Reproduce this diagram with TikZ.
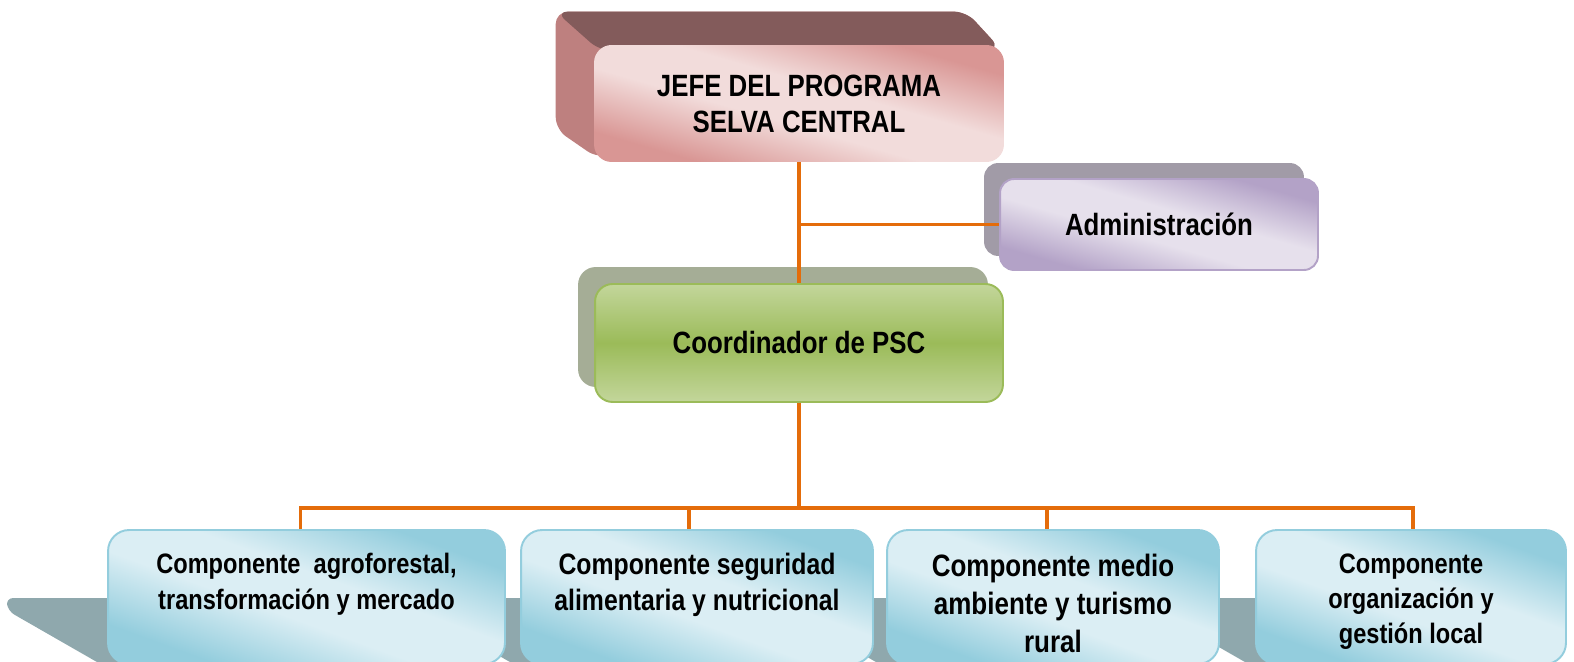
\documentclass[tikz,border=0pt]{standalone}
\usepackage{fontspec}
\setmainfont{Liberation Sans}[FakeStretch=0.84]
\usetikzlibrary{positioning,calc,backgrounds}
\definecolor{linkorange}{HTML}{E46C0A}
\definecolor{pinklight}{HTML}{F2DCDB}
\definecolor{pinkdark}{HTML}{D99694}
\definecolor{slabtop}{HTML}{835B5B}
\definecolor{slabside}{HTML}{BE807F}
\definecolor{lilaclight}{HTML}{E6E0EC}
\definecolor{lilacdark}{HTML}{B3A2C7}
\definecolor{lilacshadow}{HTML}{A19BA7}
\definecolor{greenlight}{HTML}{C3D69B}
\definecolor{greendark}{HTML}{9BBB59}
\definecolor{greenshadow}{HTML}{A5AD96}
\definecolor{bluelight}{HTML}{DBEEF4}
\definecolor{bluedark}{HTML}{93CDDD}
\definecolor{bandshadow}{HTML}{8FA8AD}
\pgfdeclareverticalshading{pinkshade}{100bp}{color(0bp)=(pinkdark); color(27bp)=(pinkdark); color(44bp)=(pinklight); color(56bp)=(pinklight); color(73bp)=(pinkdark); color(100bp)=(pinkdark)}
\pgfdeclareverticalshading{lilacshade}{100bp}{color(0bp)=(lilacdark); color(27bp)=(lilacdark); color(44bp)=(lilaclight); color(56bp)=(lilaclight); color(73bp)=(lilacdark); color(100bp)=(lilacdark)}
\pgfdeclareverticalshading{blueshade}{100bp}{color(0bp)=(bluedark); color(27bp)=(bluedark); color(44bp)=(bluelight); color(56bp)=(bluelight); color(73bp)=(bluedark); color(100bp)=(bluedark)}
\tikzset{headbox/.style = {rounded corners=10pt, minimum width=8.2cm, minimum height=2.34cm, align=center, shading=pinkshade, shading angle=-16}}
\tikzset{adminbox/.style = {draw=lilacdark, line width=1.1pt, rounded corners=8pt, minimum width=6.36cm, minimum height=1.82cm, shading=lilacshade, shading angle=-16}}
\tikzset{coordbox/.style = {draw=greendark, line width=1.1pt, rounded corners=10pt, minimum width=8.16cm, minimum height=2.36cm, top color=greenlight, bottom color=greenlight, middle color=greendark}}
\tikzset{compbox/.style = {draw=bluedark, line width=1.1pt, rounded corners=12pt, minimum height=2.68cm, shading=blueshade, shading angle=-20}}
\tikzset{comptext/.style = {anchor=north, align=center, inner sep=0pt, font=\bfseries\fontsize{16.8}{20.5}\selectfont}}
\tikzset{link/.style = {draw=linkorange, line width=2pt}}

\begin{document}
\begin{tikzpicture}[x=0.02cm, y=-0.02cm, font=\bfseries\fontsize{17.5}{20.5}\selectfont]
  \useasboundingbox (0,0) rectangle (1574,662);
  % upper levels
  \node [headbox] (jefe) at (799,103.5) {JEFE DEL PROGRAMA\\SELVA CENTRAL};
  \node [adminbox] (admin) at (1159,224.5) {Administración};
  \node [coordbox] (coord) at (799,343) {Coordinador de PSC};

  % components
  \node [compbox, minimum width=7.94cm] (c1) at (306.5,597) {};
  \node [compbox, minimum width=7.04cm] (c2) at (697,597) {};
  \node [compbox, minimum width=6.64cm] (c3) at (1053,597) {};
  \node [compbox, minimum width=6.2cm] (c4) at (1411,597) {};
  \node [comptext, font=\bfseries\fontsize{16}{20.5}\selectfont] (c1t) at ($(c1.north)+(0,24)$) {Componente~ agroforestal,\\transformación y mercado};
  \node [comptext] (c2t) at ($(c2.north)+(0,24)$) {Componente seguridad\\alimentaria y nutricional};
  \node [comptext, font=\bfseries\fontsize{17.6}{21.5}\selectfont] (c3t) at ($(c3.north)+(0,25)$) {Componente medio\\ambiente y turismo\\rural};
  \node [comptext, font=\bfseries\fontsize{16}{20}\selectfont] (c4t) at ($(c4.north)+(0,24)$) {Componente\\organización y\\gestión local};

  \coordinate (bus) at (799,508);
  \draw [link] (jefe.south) -- (coord.north);
  \draw [link] (jefe.south |- admin.west) -- (admin.west);
  \draw [link] (coord.south) -- (bus);
  \draw [link] ($(c1.north)+(-6,0)$) |- (bus) -| ($(c4.north)+(2,0)$);
  \draw [link] ($(c2.north)+(-8,0)$) -- ($(c2.north |- bus)+(-8,0)$);
  \draw [link] ($(c3.north)+(-6,0)$) -- ($(c3.north |- bus)+(-6,0)$);

  \begin{scope}[on background layer]
    % slab behind the head box
    \fill [slabside, rounded corners=7pt] ($(jefe.north west)+(-38,-33)$) -- ($(jefe.north east)+(-38,-33)$)
      -- ($(jefe.north east)+(-4,4)$) -- (jefe.center) -- ($(jefe.south west)+(4,-4)$)
      -- ($(jefe.south west)+(-38,-33)$) -- cycle;
    \fill [slabtop, rounded corners=7pt] ($(jefe.north west)+(-38,-33)$) -- ($(jefe.north east)+(-38,-33)$)
      -- ($(jefe.north east)+(-4,4)$) -- ($(jefe.north west)+(6,6)$) -- cycle;
    \fill [lilacshadow, rounded corners=8pt] ($(admin.north west)+(-15,-15)$) rectangle ($(admin.south east)+(-15,-15)$);
    \fill [greenshadow, rounded corners=10pt] ($(coord.north west)+(-16,-16)$) rectangle ($(coord.south east)+(-16,-16)$);
    % band under the components
    \foreach \c in {c1,c2,c3,c4}
      \fill [bandshadow, rounded corners=4pt] ($(\c.north west)+(-101,69)$) -- ($(\c.north east)+(-12,69)$)
        -- ($(\c.south east)+(-12,0)$) -- ($(\c.south west)+(-5,0)$) -- ($(\c.north west)+(-99,82)$) -- cycle;
  \end{scope}
\end{tikzpicture}
\end{document}
